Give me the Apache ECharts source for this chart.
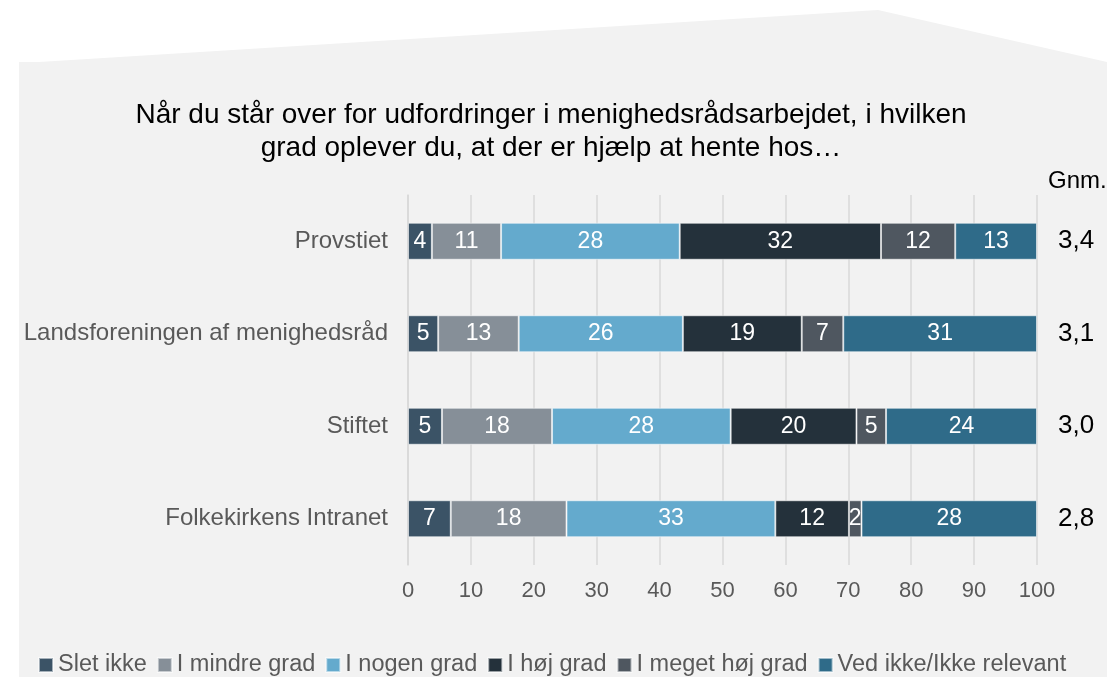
<!DOCTYPE html>
<html>
<head>
<meta charset="utf-8">
<script src="https://cdn.jsdelivr.net/npm/echarts@6/dist/echarts.min.js"></script>
<style>
html,body{margin:0;padding:0;background:#fff;}
#main{width:1107px;height:677px;}
</style>
</head>
<body>
<div id="main"></div>
<script>
var categories = ['Provstiet', 'Landsforeningen af menighedsråd', 'Stiftet', 'Folkekirkens Intranet'];
var averages = ['3,4', '3,1', '3,0', '2,8'];
var seriesNames = ['Slet ikke', 'I mindre grad', 'I nogen grad', 'I høj grad', 'I meget høj grad', 'Ved ikke/Ikke relevant'];
var sletIkke = [3.8, 4.8, 5.4, 6.8];
var mindreGrad = [11.0, 12.8, 17.5, 18.4];
var nogenGrad = [28.4, 26.1, 28.4, 33.2];
var hoejGrad = [32.0, 18.9, 20.0, 11.7];
var megetHoejGrad = [11.8, 6.6, 4.7, 2.0];
var vedIkke = [13.0, 30.8, 24.0, 27.9];
var xTicks = [0, 10, 20, 30, 40, 50, 60, 70, 80, 90, 100];

var colors = ['#3b5366', '#868f98', '#64aacd', '#24313b', '#4f5760', '#2f6b89'];
var font = '"Liberation Sans", Arial, sans-serif';

var dom = document.getElementById('main');
var myChart = echarts.init(dom);

var allData = [sletIkke, mindreGrad, nogenGrad, hoejGrad, megetHoejGrad, vedIkke];
var series = [];
for (var i = 0; i < seriesNames.length; i++) {
    series.push({
        name: seriesNames[i],
        type: 'bar',
        stack: 'total',
        barWidth: 37,
        data: allData[i],
        itemStyle: {color: colors[i], borderColor: 'rgba(255,255,255,0.55)', borderWidth: 1},
        label: {
            show: true,
            position: 'inside',
            color: '#fff',
            fontFamily: font,
            fontSize: 23,
            formatter: function (p) { return Math.round(p.value); }
        }
    });
}

myChart.setOption({
    animation: false,
    textStyle: {fontFamily: font},
    color: colors,
    graphic: [{
        type: 'polygon',
        z: -10,
        silent: true,
        shape: {points: [[19, 62], [39, 62], [878, 10], [1107, 62], [1107, 677], [19, 677]]},
        style: {fill: '#f2f2f2'}
    }],
    title: [{
        text: 'Når du står over for udfordringer i menighedsrådsarbejdet, i hvilken\ngrad oplever du, at der er hjælp at hente hos…',
        left: 546,
        top: 94,
        textAlign: 'center',
        textStyle: {fontFamily: font, fontSize: 28, fontWeight: 'normal', color: '#000', lineHeight: 33}
    }, {
        text: 'Gnm.',
        left: 1043,
        top: 164,
        textStyle: {fontFamily: font, fontSize: 24, fontWeight: 'normal', color: '#000'}
    }],
    legend: {
        data: seriesNames,
        left: 33,
        top: 648,
        itemWidth: 14,
        itemHeight: 14,
        itemGap: 10,
        icon: 'rect',
        textStyle: {fontFamily: font, fontSize: 23.5, color: '#595959'}
    },
    grid: {left: 408, right: 70, top: 195, bottom: 112},
    xAxis: {
        type: 'value',
        min: 0,
        max: 100,
        interval: 10,
        axisLine: {show: false},
        axisTick: {show: false},
        splitLine: {lineStyle: {color: '#d9d9d9', width: 1.5}},
        axisLabel: {
            fontFamily: font, fontSize: 22, color: '#595959', margin: 15,
            formatter: function (v) { return xTicks.indexOf(v) >= 0 ? v : ''; }
        }
    },
    yAxis: [{
        type: 'category',
        data: categories,
        inverse: true,
        axisLine: {show: true, lineStyle: {color: '#d9d9d9', width: 1.5}},
        axisTick: {show: false},
        axisLabel: {fontFamily: font, fontSize: 24, color: '#595959', margin: 20}
    }, {
        type: 'category',
        data: averages,
        inverse: true,
        position: 'right',
        axisLine: {show: false},
        axisTick: {show: false},
        axisLabel: {fontFamily: font, fontSize: 26, color: '#000', margin: 21}
    }],
    series: series
});
</script>
</body>
</html>
